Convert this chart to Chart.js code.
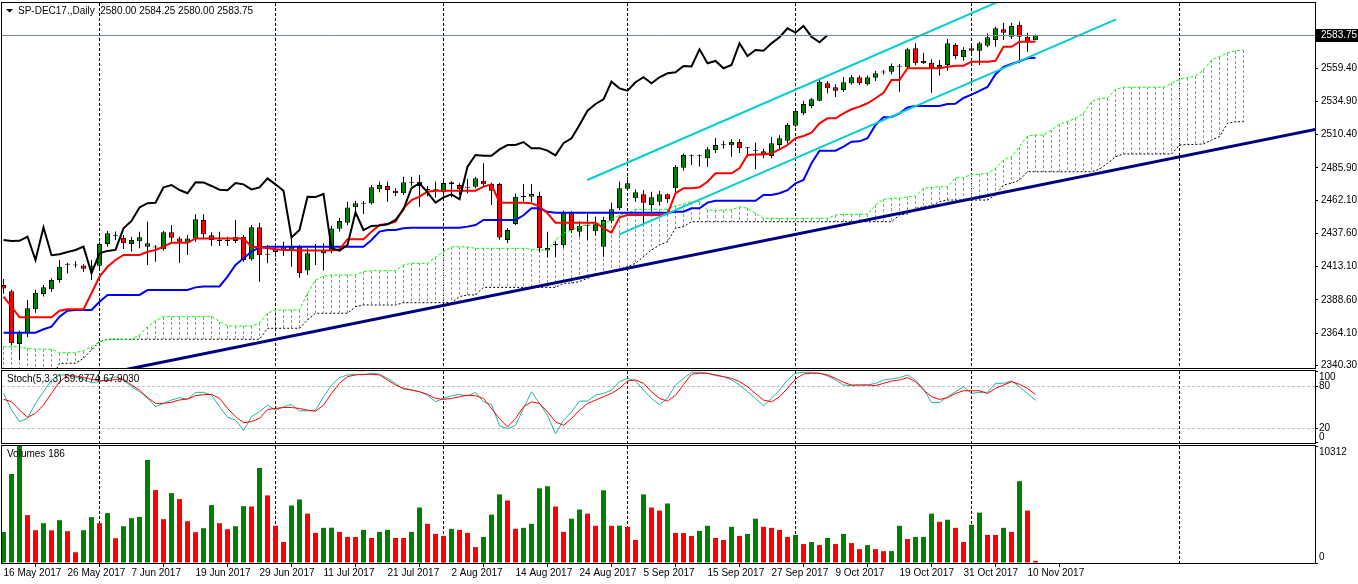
<!DOCTYPE html>
<html>
<head>
<meta charset="utf-8">
<title>SP-DEC17 Daily</title>
<script src="https://cdn.jsdelivr.net/npm/chart.js@4.4.1/dist/chart.umd.min.js"></script>
<style>
  body { margin: 0; background: #fff; }
  #wrap { position: relative; width: 1358px; height: 584px; overflow: hidden; }
  #wrap canvas { position: absolute; left: 0; }
</style>
</head>
<body>
<div id="wrap">
  <canvas id="priceChart" width="1358" height="380" style="top:0"></canvas>
  <canvas id="stochChart" width="1358" height="86" style="top:364px"></canvas>
  <canvas id="volumeChart" width="1358" height="144" style="top:440px"></canvas>
</div>
<script>
// ---- data ----
var symbolTitle = 'SP-DEC17.,Daily';

// one label every 8 bars, starting at bar 0
var dateTicks = ['16 May 2017', '26 May 2017', '7 Jun 2017', '19 Jun 2017', '29 Jun 2017', '11 Jul 2017',
  '21 Jul 2017', '2 Aug 2017', '14 Aug 2017', '24 Aug 2017', '5 Sep 2017', '15 Sep 2017', '27 Sep 2017',
  '9 Oct 2017', '19 Oct 2017', '31 Oct 2017', '10 Nov 2017'];

var priceTicks = [2340.30, 2364.10, 2388.60, 2413.10, 2437.60, 2462.10, 2485.90, 2510.40, 2534.90, 2559.40];
var stochTicks = [0, 20, 80, 100];
var stochLevels = [20, 80];
var monthStarts = [12, 34, 55, 78, 99, 121, 147];

var opens = [2399.5, 2395, 2356, 2364.4, 2381.6, 2392.9, 2396.4, 2403.2, 2414.5, 2414,
  2414, 2411.1, 2413.7, 2429.7, 2436, 2434.4, 2429.7, 2431.8, 2427.8, 2427.4,
  2425.9, 2438.4, 2433.9, 2430.7, 2433.9, 2447.5, 2436.2, 2432.1, 2432, 2432,
  2435.2, 2418.5, 2442.1, 2421.8, 2425.9, 2427.4, 2425.4, 2427.8, 2410.2, 2424.4,
  2422.9, 2424.9, 2441, 2445.5, 2456.9, 2459.4, 2459.9, 2470.1, 2472.6, 2469.1,
  2467.2, 2475, 2475.7, 2469.6, 2469.6, 2467.9, 2475.3, 2473.3, 2471.3, 2472.1,
  2476.5, 2474, 2474, 2432.7, 2444.5, 2464.6, 2464.7, 2465.2, 2426.8, 2429,
  2428.8, 2452.4, 2438.9, 2443.3, 2439.1, 2427.8, 2447, 2456.2, 2470.6, 2463.5,
  2466.4, 2458.5, 2461, 2466.4, 2470.9, 2486.1, 2494.6, 2494.6, 2493, 2499.1,
  2502.7, 2502.6, 2505, 2500.4, 2498.5, 2498.2, 2494.7, 2502.8, 2506, 2517.1,
  2526.2, 2531.6, 2535.5, 2548.3, 2545.4, 2543.4, 2548.3, 2552.8, 2547.6, 2552.5,
  2556.3, 2556.9, 2560.5, 2560.1, 2574.2, 2563.1, 2563.5, 2559.4, 2561.8, 2576.6,
  2567.5, 2574.2, 2572.4, 2576.1, 2580.3, 2588.2, 2582.7, 2591.6, 2582.7, 2580];

var highs = [2404, 2396, 2366, 2388.5, 2396, 2399.5, 2404.5, 2418, 2416, 2417,
  2414.8, 2418, 2431.4, 2439.4, 2439, 2436.4, 2435.2, 2438.9, 2446.2, 2429,
  2439.5, 2443.8, 2435.2, 2436.4, 2451.7, 2451.7, 2438.4, 2438.9, 2435.2, 2447.5,
  2436.4, 2443.8, 2445.5, 2429, 2430.3, 2431.5, 2435.2, 2429, 2426.6, 2429.7,
  2430.3, 2443, 2449, 2461, 2461.7, 2461.5, 2473.3, 2475.7, 2475.7, 2471,
  2479.4, 2479.4, 2480.7, 2472.5, 2475.7, 2477, 2476, 2474.6, 2477.7, 2479.4,
  2489.3, 2475, 2475, 2441.5, 2467, 2474, 2474, 2468.4, 2438.9, 2431.5,
  2454.5, 2454, 2446.6, 2453.2, 2450, 2449.9, 2460.3, 2475.7, 2479.4, 2470,
  2469.6, 2468.4, 2469, 2467, 2488, 2496.5, 2495.8, 2495.8, 2501.1, 2508,
  2506, 2507, 2507, 2501.2, 2504.6, 2500, 2508.9, 2510, 2519, 2529.4,
  2535.5, 2537.5, 2550.8, 2550, 2547.7, 2553, 2554.5, 2554, 2554, 2557.5,
  2558.2, 2563, 2562.6, 2574.5, 2577.8, 2570.9, 2566, 2565.5, 2581, 2577.8,
  2575, 2576, 2579, 2585, 2590.1, 2593, 2593, 2593.8, 2585.6, 2584.25];

var lows = [2393, 2355, 2344, 2361, 2379, 2391, 2394.6, 2401.2, 2408, 2412.3,
  2409.4, 2403.2, 2411.9, 2427.8, 2432.7, 2426.1, 2424.2, 2426.6, 2414.3, 2416.7,
  2425, 2431.5, 2416, 2421.7, 2431.5, 2433.9, 2428.3, 2428.3, 2428.3, 2430.3,
  2416.7, 2417.5, 2402, 2415.5, 2420.4, 2420.9, 2413, 2404.9, 2406.9, 2414.3,
  2410.2, 2422.9, 2439, 2443.8, 2450, 2452, 2459, 2468, 2461, 2465,
  2466, 2472.5, 2457.3, 2465, 2464, 2467, 2464, 2466, 2467, 2471,
  2472, 2458.5, 2433, 2430.3, 2443.8, 2461, 2461, 2424.1, 2420, 2420.4,
  2427, 2438, 2435.2, 2432.7, 2436, 2420.4, 2445.1, 2454.9, 2469, 2461,
  2445, 2454, 2458, 2460, 2468, 2484, 2488, 2487, 2486.8, 2497,
  2500, 2494.2, 2497, 2494, 2484.9, 2493, 2493, 2500, 2504, 2516,
  2524.8, 2530, 2535, 2541, 2538.3, 2542, 2547.3, 2547, 2546.8, 2550,
  2554.8, 2555, 2542.1, 2559, 2561.7, 2562.6, 2541.4, 2554, 2557.6, 2566,
  2565, 2570, 2561.8, 2575, 2575.3, 2580.3, 2581, 2563.1, 2571.6, 2580];

var closes = [2397, 2356.5, 2364, 2382.3, 2393.9, 2397.8, 2403.2, 2413, 2415, 2414.5,
  2411.5, 2413.7, 2429.7, 2437.7, 2435.8, 2430.3, 2432.7, 2434.7, 2430.3, 2427.2,
  2438.4, 2434.4, 2431.5, 2433.9, 2448, 2436.9, 2432.7, 2432, 2432.1, 2435.2,
  2418, 2442.1, 2421.5, 2422.2, 2423.9, 2425.4, 2427.8, 2408.2, 2422.9, 2424.7,
  2425.4, 2441.3, 2446.8, 2456.8, 2459.9, 2460.2, 2471.6, 2473.3, 2469.6, 2467.2,
  2475.3, 2475.2, 2472.6, 2469.8, 2469.4, 2474.7, 2473.8, 2470.1, 2471.5, 2478.2,
  2473.8, 2469.1, 2434.6, 2440.1, 2464.7, 2464.4, 2466.7, 2426.6, 2424.9, 2429.1,
  2453.2, 2440.1, 2443.1, 2443.4, 2444.3, 2447.5, 2455.4, 2470.9, 2474.6, 2467.9,
  2460.3, 2464.2, 2466.4, 2462.8, 2486.8, 2495.4, 2494.8, 2494.8, 2499.6, 2502.8,
  2502.9, 2505, 2500.4, 2500.5, 2498.7, 2495.2, 2504.1, 2507.8, 2517.6, 2528.1,
  2533.1, 2536.5, 2549.5, 2544.6, 2542.9, 2549.1, 2552.8, 2548.3, 2552.8, 2555.7,
  2556.5, 2561.1, 2560.7, 2573.4, 2563.1, 2564.8, 2559.4, 2561.8, 2577.8, 2568.5,
  2572.9, 2572.4, 2577.8, 2582.3, 2588.9, 2585.7, 2590.6, 2582.7, 2578.6, 2583.75];

var volumes = [2740, 7841, 10312, 4217, 2891, 3509, 2880, 3775, 2802, 946,
  2891, 4040, 3509, 4394, 2183, 3244, 3952, 4060, 9079, 6427,
  3863, 6161, 5631, 3686, 2714, 3067, 5101, 3509, 2979, 3244,
  5012, 4980, 8371, 5960, 3278, 1848, 5066, 5602, 4351, 2652,
  3099, 3110, 2742, 2295, 2290, 2920, 2205, 2742, 2920, 2205,
  2200, 2742, 4887, 3457, 2563, 2384, 3010, 2920, 2652, 1401,
  2295, 4261, 6049, 5513, 3010, 3099, 3457, 6586, 6765, 4977,
  2742, 3904, 4708, 4351, 3278, 6407, 3278, 3290, 3189, 2026,
  6049, 4887, 4619, 5245, 2652, 2640, 2384, 2831, 3278, 2205,
  2026, 3189, 2384, 2563, 3904, 3189, 3099, 2920, 2295, 2473,
  1669, 1848, 1579, 2205, 1669, 2563, 1758, 1222, 1579, 1222,
  1043, 1050, 3278, 2116, 2295, 2300, 4351, 3636, 3814, 3099,
  1848, 3367, 4440, 2473, 2470, 3099, 2742, 7212, 4619, 186];

var stochMain = [69.6, 46.0, 29.5, 34.2, 55.4, 72.0, 88.5, 95.6, 95.6, 92.3,
  89.4, 84.7, 86.1, 89.4, 93.2, 88.5, 79.1, 72.0, 62.5, 50.7,
  55.4, 60.2, 63.5, 61.1, 71.0, 71.0, 67.2, 50.7, 35.6, 31.8,
  16.7, 36.5, 43.6, 52.9, 45.7, 50.5, 53.8, 44.8, 44.8, 45.7,
  64.8, 81.4, 91.9, 95.7, 96.7, 95.7, 98.1, 96.7, 90.9, 83.8,
  75.7, 74.3, 71.9, 67.1, 57.6, 62.4, 66.2, 68.1, 65.7, 71.0,
  57.6, 53.8, 23.4, 19.5, 24.3, 48.1, 71.9, 55.2, 38.6, 12.4,
  31.4, 43.3, 58.6, 58.6, 67.1, 69.5, 74.3, 86.2, 90.9, 87.1,
  74.3, 62.4, 53.8, 62.4, 81.4, 90.9, 99.5, 99.5, 98.1, 94.8,
  93.3, 88.6, 81.4, 71.9, 62.4, 51.9, 62.4, 74.3, 88.6, 98.1,
  99.5, 99.5, 98.1, 94.3, 88.6, 81.4, 80.5, 81.4, 81.4, 83.8,
  88.6, 90.0, 91.9, 95.7, 88.6, 75.7, 56.7, 56.7, 64.8, 71.9,
  79.0, 69.5, 71.0, 71.0, 83.8, 83.8, 87.1, 79.0, 69.5, 59.6774];

var stochSignal = [61.1, 57.8, 46.0, 35.6, 41.3, 53.1, 69.6, 86.1, 94.6, 94.2,
  92.3, 89.4, 87.6, 87.6, 89.4, 89.4, 81.4, 74.3, 63.9, 55.4,
  55.4, 56.9, 60.2, 61.6, 66.3, 67.7, 68.2, 62.5, 48.3, 36.5,
  28.0, 29.5, 34.2, 46.7, 48.1, 49.5, 49.5, 48.1, 45.7, 44.3,
  52.9, 69.5, 83.8, 93.3, 95.7, 96.7, 96.7, 95.7, 88.6, 81.4,
  76.7, 74.3, 71.9, 68.1, 62.4, 61.0, 62.4, 64.8, 67.1, 66.2,
  62.4, 48.1, 33.8, 21.9, 33.8, 50.5, 57.6, 55.2, 43.3, 29.1,
  24.3, 33.8, 45.7, 55.2, 60.0, 64.8, 69.5, 76.7, 87.1, 88.6,
  83.8, 71.9, 62.4, 58.6, 67.0, 82.0, 96.7, 98.1, 98.1, 95.7,
  93.3, 90.9, 86.2, 79.0, 69.5, 60.0, 57.6, 64.8, 76.7, 90.0,
  97.1, 98.1, 98.1, 95.7, 90.9, 85.2, 81.4, 81.4, 81.4, 80.5,
  83.8, 87.1, 88.6, 91.9, 86.2, 74.3, 64.8, 61.0, 63.3, 69.5,
  73.3, 73.3, 73.3, 69.5, 76.7, 81.4, 86.2, 82.4, 76.7, 67.9030];

// Ichimoku lines
var tenkan = [2390.9, 2383.5, 2375.7, 2375.7, 2375.7, 2375.7, 2375.7, 2380.6, 2381.6, 2381.6,
  2381.6, 2393.4, 2405.7, 2413.0, 2418.0, 2421.7, 2421.7, 2421.7, 2424.1, 2425.4,
  2427.8, 2430.7, 2430.7, 2430.7, 2433.9, 2433.9, 2433.9, 2433.9, 2433.9, 2433.9,
  2433.9, 2427.8, 2427.3, 2426.6, 2425.9, 2425.4, 2425.4, 2424.9, 2424.9, 2424.9,
  2424.9, 2424.9, 2425.9, 2433.3, 2433.3, 2433.3, 2438.9, 2443.8, 2444.5, 2446.2,
  2456.1, 2462.2, 2464.7, 2468.4, 2469.1, 2469.1, 2469.1, 2469.1, 2469.1, 2469.1,
  2472.1, 2473.8, 2460.3, 2460.3, 2460.3, 2460.3, 2459.9, 2457.3, 2452.4, 2445.5,
  2445.5, 2445.5, 2445.5, 2445.5, 2445.5, 2441.4, 2438.1, 2449.5, 2451.2, 2451.2,
  2451.2, 2451.2, 2451.2, 2451.9, 2467.2, 2470.9, 2470.9, 2471.6, 2475.7, 2481.9,
  2481.9, 2481.9, 2485.6, 2495.4, 2495.8, 2495.8, 2496.7, 2499.6, 2502.8, 2507.8,
  2509.5, 2511.9, 2518.8, 2522.5, 2522.5, 2526.2, 2529.2, 2531.1, 2533.6, 2537.3,
  2541.4, 2550.8, 2550.8, 2559.4, 2559.4, 2559.4, 2559.4, 2559.4, 2560.6, 2561.3,
  2561.3, 2564.3, 2564.3, 2564.3, 2565.0, 2575.3, 2575.3, 2579.0, 2579.0, 2579.0];

var kijun = [2364.4, 2364.4, 2364.4, 2364.4, 2364.4, 2366.9, 2368.8, 2376.2, 2380.6, 2381.1,
  2381.1, 2381.1, 2387.2, 2392.2, 2392.2, 2392.2, 2392.2, 2392.2, 2395.8, 2395.8,
  2395.8, 2395.8, 2395.8, 2395.8, 2397.8, 2398.5, 2398.5, 2398.5, 2405.7, 2414.3,
  2419.2, 2424.1, 2427.3, 2427.8, 2427.8, 2427.8, 2427.8, 2427.8, 2427.8, 2427.8,
  2427.8, 2427.8, 2427.8, 2427.8, 2427.8, 2427.8, 2432.7, 2438.9, 2440.1, 2440.1,
  2441.4, 2441.8, 2441.8, 2441.8, 2441.8, 2441.8, 2441.8, 2441.8, 2442.6, 2443.8,
  2447.5, 2447.5, 2447.5, 2447.5, 2447.5, 2451.0, 2456.1, 2456.1, 2453.5, 2452.9,
  2452.9, 2452.9, 2452.9, 2452.9, 2452.9, 2452.9, 2452.9, 2452.9, 2452.9, 2452.9,
  2452.9, 2452.9, 2452.9, 2452.9, 2453.6, 2453.6, 2456.1, 2456.1, 2460.3, 2461.7,
  2461.7, 2461.7, 2461.7, 2461.7, 2461.7, 2465.9, 2465.9, 2467.2, 2469.5, 2474.6,
  2477.0, 2489.3, 2498.6, 2498.6, 2498.6, 2501.6, 2505.3, 2505.5, 2507.8, 2517.6,
  2523.3, 2523.5, 2526.2, 2530.5, 2531.6, 2531.6, 2531.6, 2531.6, 2533.0, 2533.3,
  2537.5, 2540.0, 2542.8, 2545.6, 2555.0, 2560.4, 2562.6, 2564.6, 2566.8, 2567.2];

// senkou spans as drawn: bar 0 .. 26 bars past the last candle
var spanA = [2354.0, 2354.0, 2354.0, 2352.8, 2352.1, 2352.1, 2352.1, 2349.6, 2349.6, 2349.6,
  2351.1, 2354.0, 2357.7, 2359.5, 2359.5, 2359.5, 2359.5, 2362.7, 2368.8, 2373.2,
  2376.2, 2376.2, 2376.2, 2376.2, 2376.2, 2376.2, 2376.5, 2372.5, 2369.3, 2369.3,
  2369.3, 2369.3, 2371.3, 2378.7, 2381.1, 2381.1, 2381.1, 2381.1, 2393.4, 2403.2,
  2406.2, 2406.9, 2406.9, 2406.9, 2406.9, 2409.4, 2410.1, 2410.1, 2410.1, 2410.1,
  2414.3, 2415.5, 2415.5, 2415.5, 2420.0, 2424.1, 2427.8, 2427.8, 2427.5, 2426.6,
  2426.6, 2426.6, 2426.6, 2426.6, 2426.6, 2426.6, 2425.9, 2425.4, 2425.4, 2432.7,
  2437.7, 2440.1, 2442.6, 2444.5, 2445.1, 2445.3, 2447.5, 2451.2, 2452.4, 2455.4,
  2455.4, 2455.4, 2455.4, 2455.4, 2457.8, 2459.3, 2461.0, 2461.0, 2454.9, 2454.6,
  2454.9, 2454.9, 2457.3, 2456.1, 2452.4, 2448.7, 2448.7, 2448.7, 2448.7, 2448.7,
  2448.7, 2448.7, 2448.7, 2448.7, 2451.2, 2451.7, 2451.7, 2451.7, 2451.7, 2458.6,
  2462.8, 2463.5, 2463.5, 2464.7, 2465.2, 2470.9, 2471.5, 2472.1, 2472.1, 2478.7,
  2478.7, 2481.2, 2481.2, 2481.9, 2485.6, 2491.8, 2494.2, 2501.6, 2509.5, 2510.2,
  2510.2, 2513.9, 2518.3, 2520.0, 2522.5, 2526.2, 2534.8, 2537.3, 2537.3, 2543.9,
  2545.4, 2545.4, 2545.4, 2545.4, 2545.4, 2545.4, 2548.3, 2551.3, 2552.5, 2553.7,
  2558.1, 2565.5, 2568.0, 2570.9, 2572.4, 2572.9];

var spanB = [2330, 2330, 2330, 2330, 2330, 2330, 2330, 2341.8, 2341.8, 2341.8,
  2345.5, 2351.6, 2357.7, 2359.5, 2359.5, 2359.5, 2359.5, 2359.5, 2359.5, 2359.5,
  2359.5, 2359.5, 2359.5, 2359.5, 2359.5, 2359.5, 2359.5, 2359.5, 2359.5, 2359.5,
  2359.5, 2359.5, 2359.5, 2367.6, 2367.6, 2367.6, 2367.6, 2367.6, 2373.7, 2378.7,
  2378.7, 2378.7, 2378.7, 2378.7, 2383.5, 2384.8, 2384.8, 2384.8, 2384.8, 2384.8,
  2386.5, 2386.5, 2386.5, 2386.5, 2386.5, 2386.5, 2386.5, 2391.0, 2392.2, 2392.2,
  2397.8, 2397.8, 2397.8, 2397.8, 2397.8, 2397.8, 2397.8, 2397.8, 2397.8, 2397.8,
  2400.8, 2401.0, 2402.0, 2404.5, 2406.9, 2408.2, 2409.4, 2411.1, 2413.0, 2415.5,
  2420.4, 2425.4, 2429.0, 2431.5, 2441.4, 2442.6, 2446.2, 2446.2, 2446.2, 2446.2,
  2446.2, 2446.2, 2446.2, 2446.2, 2446.2, 2446.2, 2446.2, 2446.2, 2446.2, 2446.2,
  2446.2, 2446.2, 2446.2, 2446.2, 2446.2, 2446.2, 2446.2, 2446.2, 2446.2, 2446.2,
  2446.2, 2446.2, 2451.2, 2452.0, 2456.1, 2457.3, 2458.0, 2461.0, 2462.2, 2462.2,
  2462.2, 2462.2, 2462.2, 2462.2, 2465.9, 2473.3, 2474.6, 2477.0, 2483.1, 2483.1,
  2483.1, 2483.1, 2483.1, 2483.1, 2483.1, 2483.1, 2483.1, 2485.0, 2489.3, 2494.2,
  2496.2, 2496.2, 2496.2, 2496.2, 2496.2, 2496.2, 2496.2, 2502.8, 2503.2, 2503.2,
  2503.6, 2506.5, 2509.0, 2518.8, 2520.0, 2520.0];

var chikouShift = 26;

// hand-drawn objects: [bar index, price] anchors
var trendNavy = [[10, 2330.9], [164, 2514.3]];
var channelUpper = [[72.98, 2477.0], [126, 2612.8]];
var channelLower = [[76.98, 2436.9], [139.06, 2595.5]];

// ---- drawing ----
Chart.defaults.font.family = '"Liberation Sans", Arial, sans-serif';
Chart.defaults.font.size = 10;
Chart.defaults.color = '#000';

var GREEN = '#008000', RED = '#ff0000';
var X_MIN = -0.1875, X_MAX = X_MIN + 1313 / 8;
var FONT = '10px "Liberation Sans", Arial, sans-serif';

function xAxis(show) {
    return {
        type: 'linear', min: X_MIN, max: X_MAX, bounds: 'data', display: show, offset: false,
        afterBuildTicks: function (s) { s.ticks = dateTicks.map(function (_, k) { return { value: k * 8 }; }); },
        afterFit: function (s) { if (show) s.height = 21; },
        ticks: { callback: function (v) { return dateTicks[v / 8]; }, align: 'start', maxRotation: 0, autoSkip: false, padding: 0 },
        grid: { drawOnChartArea: false, drawTicks: true, tickLength: 4, tickColor: '#000' },
        border: { display: false }
    };
}

function yAxis(min, max, ticks, fmt, pad) {
    return {
        position: 'right', min: min, max: max, bounds: 'data',
        afterBuildTicks: function (s) { s.ticks = ticks.map(function (v) { return { value: v }; }); },
        // fixed axis width and no label overhang, so every pane's plot area lines up
        afterFit: function (s) { s.width = 43; s.paddingTop = 0; s.paddingBottom = 0; },
        ticks: { callback: fmt, padding: pad, crossAlign: 'near', autoSkip: false },
        grid: { drawOnChartArea: false, drawTicks: true, tickLength: 3, tickColor: '#000' },
        border: { display: false }
    };
}

function pts(arr) {
    return arr.map(function (v, k) { return { x: k, y: v }; });
}

function anchors(a) {
    return a.map(function (p) { return { x: p[0], y: p[1] }; });
}

function lineSet(data, color, width, order, dash) {
    return {
        type: 'line', data: data, borderColor: color, borderWidth: width, borderDash: dash || [],
        pointRadius: 0, tension: 0, fill: false, order: order, clip: 0
    };
}

var frame = {
    id: 'frame',
    afterDraw: function (chart) {
        var ctx = chart.ctx, a = chart.chartArea;
        ctx.save();
        ctx.strokeStyle = '#000';
        ctx.lineWidth = 1;
        ctx.strokeRect(a.left - 0.5, a.top - 0.5, a.right - a.left + 1, a.bottom - a.top + 1);
        ctx.restore();
    }
};

var monthGrid = {
    id: 'monthGrid',
    beforeDatasetsDraw: function (chart) {
        var ctx = chart.ctx, a = chart.chartArea, x = chart.scales.x;
        ctx.save();
        ctx.strokeStyle = '#000';
        ctx.lineWidth = 1;
        ctx.setLineDash([3, 2]);
        monthStarts.forEach(function (i) {
            var px = Math.floor(x.getPixelForValue(i)) + 0.5;
            ctx.beginPath();
            ctx.moveTo(px, a.top);
            ctx.lineTo(px, a.bottom);
            ctx.stroke();
        });
        ctx.restore();
    }
};

function caption(text) {
    return {
        id: 'caption',
        afterDraw: function (chart) {
            var ctx = chart.ctx, a = chart.chartArea;
            ctx.save();
            ctx.font = FONT;
            ctx.fillStyle = '#000';
            ctx.textBaseline = 'middle';
            ctx.fillText(text, a.left + 5, a.top + 8);
            ctx.restore();
        }
    };
}

// MT4 pulls the end labels of small panes inside the pane
function labelShift(shifts) {
    return {
        id: 'labelShift',
        beforeDraw: function (chart) {
            chart.scales.y.getLabelItems().forEach(function (it) {
                var d = shifts[it.label];
                if (d && !it.shifted) {
                    it.options.translation[1] += d;
                    it.shifted = true;
                }
            });
        }
    };
}

// ---- price pane ----
var last = closes.length - 1;

var hatch = spanA.map(function (a, k) {
    return { x: k, y: [Math.min(a, spanB[k]), Math.max(a, spanB[k])] };
});
var candleColors = closes.map(function (c, i) { return c >= opens[i] ? GREEN : RED; });
var HATCH_INDEX = 10;

// the cloud bars are laid out by Chart.js, then painted as 3-on/2-off verticals like MT4 does
var cloudHatch = {
    id: 'cloudHatch',
    afterDatasetDraw: function (chart, args) {
        if (args.index !== HATCH_INDEX) return;
        var ctx = chart.ctx, a = chart.chartArea;
        ctx.save();
        args.meta.data.forEach(function (el, k) {
            var top = Math.max(Math.round(Math.min(el.y, el.base)), a.top);
            var bottom = Math.min(Math.round(Math.max(el.y, el.base)), a.bottom);
            var px = Math.floor(el.x);
            ctx.fillStyle = spanA[k] >= spanB[k] ? '#00ff00' : '#808080';
            for (var y = top; y < bottom; y += 5) {
                ctx.fillRect(px, y, 1, Math.min(3, bottom - y));
            }
        });
        ctx.restore();
    }
};

var titlePlugin = {
    id: 'title',
    afterDraw: function (chart) {
        var ctx = chart.ctx, a = chart.chartArea;
        ctx.save();
        ctx.fillStyle = '#000';
        ctx.beginPath();
        ctx.moveTo(a.left + 4, a.top + 6);
        ctx.lineTo(a.left + 11, a.top + 6);
        ctx.lineTo(a.left + 7.5, a.top + 9.5);
        ctx.closePath();
        ctx.fill();
        ctx.font = FONT;
        ctx.textBaseline = 'middle';
        var ohlc = [opens[last], highs[last], lows[last], closes[last]].map(function (v) { return v.toFixed(2); });
        ctx.fillText(symbolTitle + '  ' + ohlc.join(' '), a.left + 16, a.top + 8);
        ctx.restore();
    }
};

var bidMarker = {
    id: 'bidMarker',
    afterDatasetsDraw: function (chart) {
        var ctx = chart.ctx, a = chart.chartArea;
        var py = Math.floor(chart.scales.y.getPixelForValue(closes[last])) + 0.5;
        ctx.save();
        ctx.strokeStyle = '#778899';
        ctx.lineWidth = 1;
        ctx.beginPath();
        ctx.moveTo(a.left, py);
        ctx.lineTo(a.right, py);
        ctx.stroke();
        ctx.restore();
    },
    afterDraw: function (chart) {
        var ctx = chart.ctx, a = chart.chartArea;
        var py = Math.floor(chart.scales.y.getPixelForValue(closes[last])) + 0.5;
        ctx.save();
        ctx.fillStyle = '#000';
        ctx.fillRect(a.right + 1, py - 6.5, chart.width - a.right - 1, 13);
        ctx.fillStyle = '#fff';
        ctx.font = FONT;
        ctx.textBaseline = 'middle';
        ctx.fillText(closes[last].toFixed(2), a.right + 6, py);
        ctx.restore();
    }
};

new Chart(document.getElementById('priceChart'), {
    type: 'bar',
    data: {
        datasets: [
            lineSet(anchors(trendNavy), '#000080', 3, 0),
            lineSet(anchors(channelUpper), '#00ced1', 2, 0),
            lineSet(anchors(channelLower), '#00ced1', 2, 0),
            lineSet(pts(closes.slice(chikouShift)), '#000', 2, 1),
            lineSet(pts(tenkan), RED, 2, 2),
            lineSet(pts(kijun), '#0000ff', 2, 3),
            lineSet(pts(spanA), '#00ff00', 1, 4, [3, 2]),
            lineSet(pts(spanB), '#000', 1, 5, [2, 2]),
            {
                type: 'bar', order: 6, clip: 0, grouped: false, inflateAmount: 0,
                data: opens.map(function (o, i) { return { x: i, y: [o, closes[i]] }; }),
                backgroundColor: candleColors, borderColor: '#000', borderWidth: 1, borderSkipped: false,
                barThickness: 5, minBarLength: 1
            },
            {
                type: 'bar', order: 7, clip: 0, grouped: false, inflateAmount: 0,
                data: lows.map(function (l, i) { return { x: i, y: [l, highs[i]] }; }),
                backgroundColor: '#000', borderWidth: 0, barThickness: 1
            },
            {
                type: 'bar', order: 8, clip: 0, grouped: false, inflateAmount: 0,
                data: hatch, backgroundColor: 'rgba(0,0,0,0)', borderWidth: 0, barThickness: 1
            }
        ]
    },
    options: {
        responsive: false, animation: false, events: [],
        layout: { padding: { left: 2, right: 0, top: 3, bottom: 12 } },
        plugins: { legend: { display: false }, tooltip: { enabled: false } },
        scales: {
            x: xAxis(false),
            y: yAxis(2338.31, 2607.57, priceTicks, function (v) { return Number(v).toFixed(2); }, 3)
        }
    },
    plugins: [monthGrid, cloudHatch, bidMarker, frame, titlePlugin]
});

// ---- stochastic pane ----
var stochLevelLines = {
    id: 'stochLevelLines',
    beforeDatasetsDraw: function (chart) {
        var ctx = chart.ctx, a = chart.chartArea, y = chart.scales.y;
        ctx.save();
        ctx.strokeStyle = '#c0c0c0';
        ctx.lineWidth = 1;
        ctx.setLineDash([3, 2]);
        stochLevels.forEach(function (v) {
            var py = Math.floor(y.getPixelForValue(v)) + 0.5;
            ctx.beginPath();
            ctx.moveTo(a.left, py);
            ctx.lineTo(a.right, py);
            ctx.stroke();
        });
        ctx.restore();
    }
};

new Chart(document.getElementById('stochChart'), {
    type: 'line',
    data: {
        datasets: [
            lineSet(pts(stochSignal), RED, 1, 0),
            lineSet(pts(stochMain), '#20b2aa', 1, 1)
        ]
    },
    options: {
        responsive: false, animation: false, events: [],
        layout: { padding: { left: 2, right: 0, top: 7, bottom: 7 } },
        plugins: { legend: { display: false }, tooltip: { enabled: false } },
        scales: {
            x: xAxis(false),
            y: yAxis(-0.85, 101.3, stochTicks, function (v) { return String(v); }, 1)
        }
    },
    plugins: [stochLevelLines, monthGrid, frame,
        caption('Stoch(5,3,3) ' + stochMain[last].toFixed(4) + ' ' + stochSignal[last].toFixed(4)),
        labelShift({ '100': 5, '0': -5 })]
});

// ---- volume pane ----
var volColors = volumes.map(function (v, i) { return i === 0 || v > volumes[i - 1] ? GREEN : RED; });
var volMax = Math.max.apply(null, volumes);

new Chart(document.getElementById('volumeChart'), {
    type: 'bar',
    data: {
        datasets: [{
            data: volumes.map(function (v, i) { return { x: i, y: v }; }),
            backgroundColor: volColors, borderWidth: 0, barThickness: 5,
            grouped: false, inflateAmount: 0, clip: 0
        }]
    },
    options: {
        responsive: false, animation: false, events: [],
        layout: { padding: { left: 2, right: 0, top: 6, bottom: 0 } },
        plugins: { legend: { display: false }, tooltip: { enabled: false } },
        scales: {
            x: xAxis(true),
            y: yAxis(0, volMax, [0, volMax], function (v) { return String(v); }, 1)
        }
    },
    plugins: [monthGrid, frame, caption('Volumes ' + volumes[last]),
        labelShift({ '10312': 6, '0': -6 })]
});
</script>
</body>
</html>
